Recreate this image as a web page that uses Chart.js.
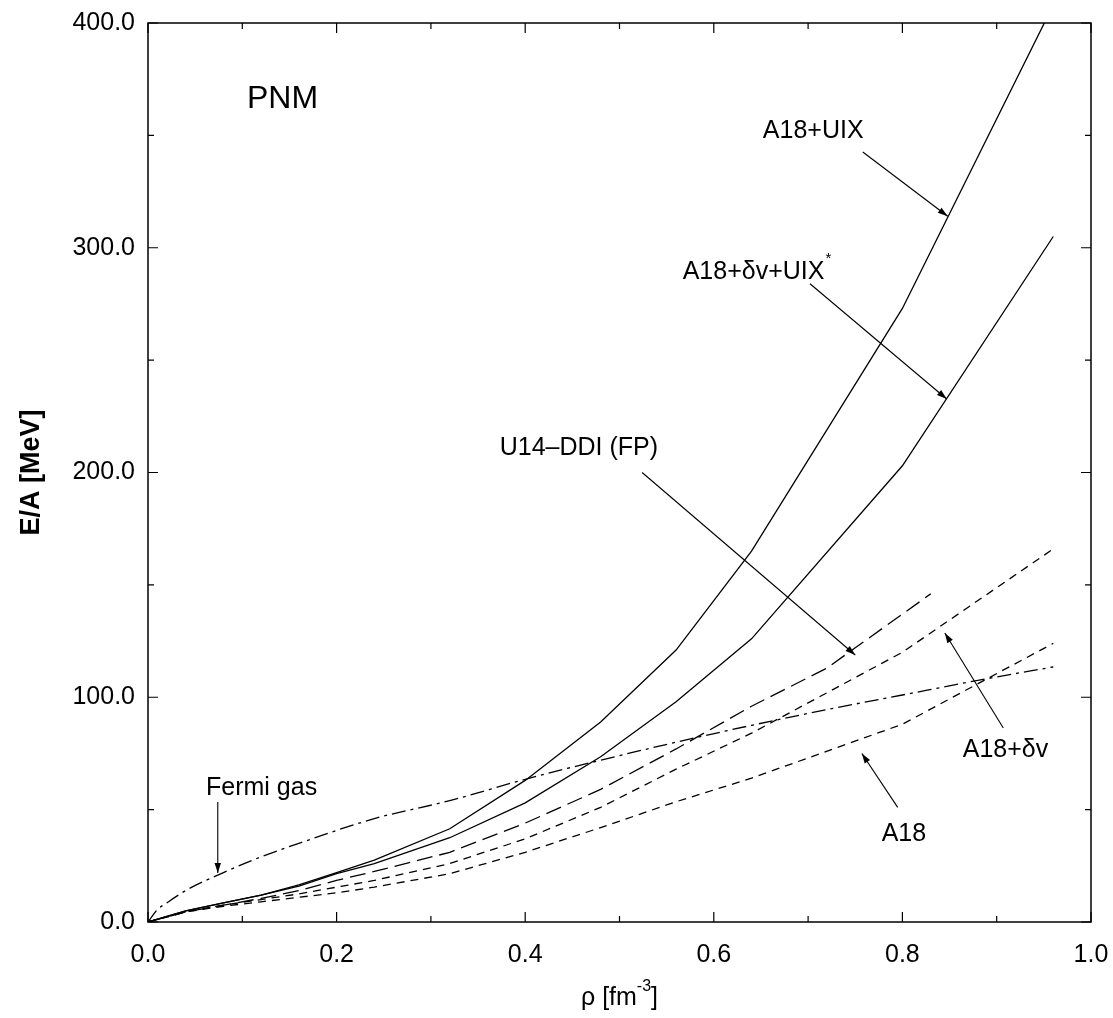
<!DOCTYPE html>
<html>
<head>
<meta charset="utf-8">
<script src="https://cdn.jsdelivr.net/npm/chart.js@4/dist/chart.umd.min.js"></script>
<style>
  html, body { margin: 0; padding: 0; background: #fff; }
  #wrap { width: 1113px; height: 1018px; }
</style>
</head>
<body>
<div id="wrap"><canvas id="c" width="1113" height="1018"></canvas></div>
<script>
// ---- data ----
const rho        = [0, 0.04, 0.08, 0.12, 0.16, 0.20, 0.24, 0.32, 0.40, 0.48, 0.56, 0.64, 0.80, 0.96];
const a18uix     = [0, 5, 8.5, 12, 16.5, 22, 27.5, 41.5, 63, 89, 121, 165, 273, 408];
const a18dvuix   = [0, 5, 8.5, 12, 16, 21.5, 26, 37.5, 53, 73.5, 98, 126, 203, 305];
const a18dv      = [0, 4.5, 7.5, 10, 12.5, 15.5, 18.5, 26, 37, 51, 68, 84, 120, 166];
const a18        = [0, 4.5, 7, 9, 11, 13, 15.5, 21.5, 31, 42, 53.5, 64, 88, 124];
const rhoFP      = [0, 0.04, 0.08, 0.12, 0.16, 0.20, 0.24, 0.32, 0.40, 0.48, 0.56, 0.64, 0.72, 0.83];
const u14ddi     = [0, 4.5, 7.5, 10.5, 14, 18.5, 22.5, 31, 44, 59, 77, 96, 113, 146];
const rhoFG      = [0, 0.01, 0.02, 0.04, 0.08, 0.12, 0.16, 0.24, 0.32, 0.40, 0.48, 0.56, 0.64, 0.72, 0.80, 0.88, 0.96];
const fermiGas   = [0, 5.5, 8.5, 14, 22, 29, 35, 46, 54, 63.5, 72, 80, 87.5, 94.5, 101, 107.5, 113.5];

const xTicks = [0, 0.2, 0.4, 0.6, 0.8, 1.0];
const yTicks = [0, 100, 200, 300, 400];

const FONT = "'Liberation Sans', Arial, Helvetica, sans-serif";

function pts(xs, ys) { return xs.map((x, i) => ({ x: x, y: ys[i] })); }

// annotation labels with arrows (positions in data units)
const notes = [
  { text: 'PNM', x: 0.105, y: 366, size: 32 },
  { text: 'A18+UIX', x: 0.652, y: 352, size: 25, from: [0.758, 342.6], to: [0.848, 314] },
  { text: 'A18+δv+UIX', sup: '*', x: 0.567, y: 289, size: 25, from: [0.702, 284], to: [0.847, 232.7] },
  { text: 'U14\u2013DDI (FP)', x: 0.373, y: 211, size: 25, from: [0.524, 200], to: [0.75, 118.8] },
  { text: 'A18+δv', x: 0.864, y: 76.5, size: 25, from: [0.907, 86.3], to: [0.845, 128.6] },
  { text: 'A18', x: 0.778, y: 39, size: 25, from: [0.795, 51], to: [0.757, 75] },
  { text: 'Fermi gas', x: 0.0615, y: 59.6, size: 25, from: [0.074, 53.4], to: [0.074, 21.8] }
];

function arrow(ctx, x1, y1, x2, y2) {
  ctx.beginPath();
  ctx.moveTo(x1, y1);
  ctx.lineTo(x2, y2);
  ctx.stroke();
  const a = Math.atan2(y2 - y1, x2 - x1);
  const L = 10, W = 3.2;
  ctx.beginPath();
  ctx.moveTo(x2, y2);
  ctx.lineTo(x2 - L * Math.cos(a) + W * Math.sin(a), y2 - L * Math.sin(a) - W * Math.cos(a));
  ctx.lineTo(x2 - L * Math.cos(a) - W * Math.sin(a), y2 - L * Math.sin(a) + W * Math.cos(a));
  ctx.closePath();
  ctx.fill();
}

const framePlugin = {
  id: 'frame',
  afterDatasetsDraw(chart) {
    const ctx = chart.ctx;
    const ca = chart.chartArea;
    const xs = chart.scales.x, ys = chart.scales.y;
    ctx.save();
    ctx.strokeStyle = '#000';
    ctx.fillStyle = '#000';
    // frame
    ctx.lineWidth = 1.5;
    ctx.strokeRect(ca.left, ca.top, ca.right - ca.left, ca.bottom - ca.top);
    // inward ticks
    ctx.lineWidth = 1.2;
    ctx.beginPath();
    for (let v = 0; v <= 1.0001; v += 0.1) {
      const major = Math.abs(v * 5 - Math.round(v * 5)) < 1e-6;
      const L = major ? 10 : 6;
      const px = xs.getPixelForValue(v);
      ctx.moveTo(px, ca.bottom); ctx.lineTo(px, ca.bottom - L);
      ctx.moveTo(px, ca.top); ctx.lineTo(px, ca.top + L);
    }
    for (let v = 0; v <= 400; v += 50) {
      const major = v % 100 === 0;
      const L = major ? 10 : 6;
      const py = ys.getPixelForValue(v);
      ctx.moveTo(ca.left, py); ctx.lineTo(ca.left + L, py);
      ctx.moveTo(ca.right, py); ctx.lineTo(ca.right - L, py);
    }
    ctx.stroke();

    // annotations
    ctx.lineWidth = 1.1;
    ctx.textBaseline = 'middle';
    ctx.textAlign = 'left';
    notes.forEach(n => {
      ctx.font = n.size + 'px ' + FONT;
      const px = xs.getPixelForValue(n.x), py = ys.getPixelForValue(n.y);
      ctx.fillText(n.text, px, py);
      if (n.sup) {
        const w = ctx.measureText(n.text).width;
        ctx.font = '15px ' + FONT;
        ctx.fillText(n.sup, px + w + 1, py - 14);
      }
      if (n.from) {
        arrow(ctx, xs.getPixelForValue(n.from[0]), ys.getPixelForValue(n.from[1]),
                   xs.getPixelForValue(n.to[0]), ys.getPixelForValue(n.to[1]));
      }
    });

    // axis titles
    ctx.save();
    ctx.translate(32, (ca.top + ca.bottom) / 2 + 0);
    ctx.rotate(-Math.PI / 2);
    ctx.font = 'bold 27px ' + FONT;
    ctx.textAlign = 'center';
    ctx.textBaseline = 'middle';
    ctx.fillText('E/A [MeV]', 0, 0);
    ctx.restore();

    ctx.font = '25px ' + FONT;
    const t1 = 'ρ [fm', t2 = '-3', t3 = ']';
    const w1 = ctx.measureText(t1).width;
    ctx.font = '16px ' + FONT;
    const w2 = ctx.measureText(t2).width;
    ctx.font = '25px ' + FONT;
    const w3 = ctx.measureText(t3).width;
    const cx = (ca.left + ca.right) / 2;
    let sx = cx - (w1 + w2 + w3) / 2;
    const by = 998;
    ctx.textAlign = 'left';
    ctx.textBaseline = 'middle';
    ctx.fillText(t1, sx, by);
    ctx.font = '16px ' + FONT;
    ctx.fillText(t2, sx + w1, by - 11);
    ctx.font = '25px ' + FONT;
    ctx.fillText(t3, sx + w1 + w2, by);
    ctx.restore();
  }
};

const common = { borderColor: '#000', backgroundColor: '#000', borderWidth: 1.3, pointRadius: 0, fill: false, tension: 0 };

new Chart(document.getElementById('c'), {
  type: 'line',
  data: {
    datasets: [
      Object.assign({ label: 'A18+UIX', data: pts(rho, a18uix) }, common),
      Object.assign({ label: 'A18+δv+UIX*', data: pts(rho, a18dvuix) }, common),
      Object.assign({ label: 'U14-DDI (FP)', data: pts(rhoFP, u14ddi), borderDash: [16, 7] }, common),
      Object.assign({ label: 'A18+δv', data: pts(rho, a18dv), borderDash: [8, 6] }, common),
      Object.assign({ label: 'A18', data: pts(rho, a18), borderDash: [8, 6] }, common),
      Object.assign({ label: 'Fermi gas', data: pts(rhoFG, fermiGas), borderDash: [14, 5, 3, 5], cubicInterpolationMode: 'monotone' }, common)
    ]
  },
  options: {
    responsive: false,
    animation: false,
    devicePixelRatio: 1,
    layout: { padding: { top: 23, right: 22, left: 0, bottom: 0 } },
    plugins: { legend: { display: false }, tooltip: { enabled: false }, title: { display: false } },
    scales: {
      x: {
        type: 'linear', min: 0, max: 1,
        afterBuildTicks(s) { s.ticks = xTicks.map(v => ({ value: v })); },
        afterFit(s) { s.height = 96; s.paddingLeft = 0; s.paddingRight = 0; },
        ticks: { callback: v => Number(v).toFixed(1), font: { family: FONT, size: 25 }, color: '#000', padding: 18, maxRotation: 0, autoSkip: false },
        grid: { display: false, drawTicks: false },
        border: { display: false }
      },
      y: {
        type: 'linear', min: 0, max: 400,
        afterBuildTicks(s) { s.ticks = yTicks.map(v => ({ value: v })); },
        afterFit(s) { s.width = 148; s.paddingTop = 0; s.paddingBottom = 0; },
        ticks: { callback: v => Number(v).toFixed(1), font: { family: FONT, size: 25 }, color: '#000', padding: 13, autoSkip: false },
        grid: { display: false, drawTicks: false },
        border: { display: false }
      }
    }
  },
  plugins: [framePlugin]
});
</script>
</body>
</html>
